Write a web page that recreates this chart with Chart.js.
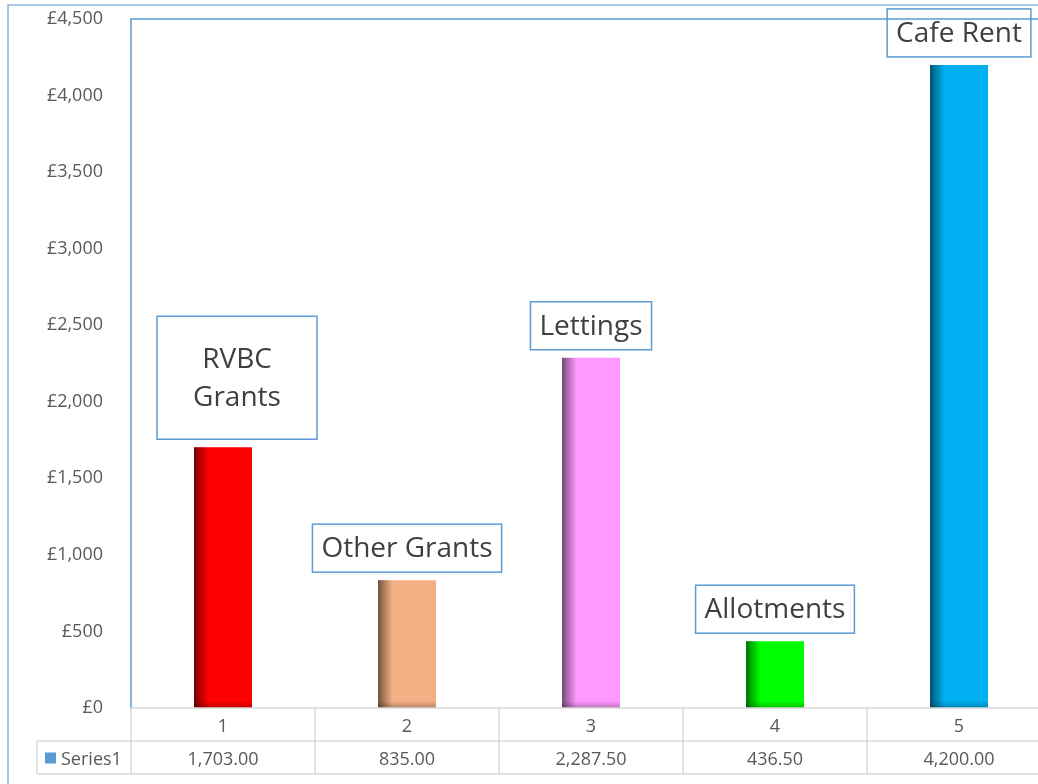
<!DOCTYPE html>
<html>
<head>
<meta charset="utf-8">
<script src="https://cdn.jsdelivr.net/npm/chart.js@4.4.1/dist/chart.umd.min.js"></script>
<style>
  html, body { margin: 0; padding: 0; background: #fff; overflow: hidden; }
  #chart { position: absolute; left: 0; top: 0; }
</style>
</head>
<body>
<canvas id="chart" width="1060" height="784"></canvas>
<script>
// chart data
const categories = ["1", "2", "3", "4", "5"];
const seriesName = "Series1";
const values = [1703, 835, 2287.5, 436.5, 4200];
const barLabels = [["RVBC", "Grants"], ["Other Grants"], ["Lettings"], ["Allotments"], ["Cafe Rent"]];
const barColors = ["#FF0000", "#F4B084", "#FF99FF", "#00FF00", "#00B0F0"];
const yTicks = [0, 500, 1000, 1500, 2000, 2500, 3000, 3500, 4000, 4500];

const FONT = "'Open Sans', 'Noto Sans', sans-serif";
const BLUE = "#5B9BD5";
const GRID = "#D9D9D9";
const TEXT = "#595959";

// the first label box was resized by hand in the original
const labelBoxOverride = { 0: { w: 160, h: 123, dx: 14 } };

const fmtMoney = (v) => "£" + v.toLocaleString("en-GB");
const fmtTable = (v) => v.toLocaleString("en-GB", { minimumFractionDigits: 2, maximumFractionDigits: 2 });

const barShading = {
    id: "barShading",
    afterDatasetsDraw(chart) {
        const ctx = chart.ctx;
        chart.getDatasetMeta(0).data.forEach((bar) => {
            const left = bar.x - bar.width / 2;
            const w = bar.width;
            const top = bar.y;
            const bottom = bar.base;
            // darker left edge
            let g = ctx.createLinearGradient(left, 0, left + w, 0);
            g.addColorStop(0, "rgba(0,0,0,0.55)");
            g.addColorStop(0.08, "rgba(0,0,0,0.35)");
            g.addColorStop(0.25, "rgba(0,0,0,0)");
            g.addColorStop(1, "rgba(0,0,0,0)");
            ctx.save();
            ctx.fillStyle = g;
            ctx.fillRect(left, top, w, bottom - top);
            // slightly darker bottom edge
            g = ctx.createLinearGradient(0, bottom - 7, 0, bottom);
            g.addColorStop(0, "rgba(0,0,0,0)");
            g.addColorStop(1, "rgba(0,0,0,0.25)");
            ctx.fillStyle = g;
            ctx.fillRect(left, bottom - 7, w, 7);
            ctx.restore();
        });
    }
};

const frameAndTable = {
    id: "frameAndTable",
    afterDraw(chart) {
        const ctx = chart.ctx;
        const area = chart.chartArea;
        const x = chart.scales.x;
        const step = x.getPixelForValue(1) - x.getPixelForValue(0);
        const tLeft = area.left;
        const tRight = area.right;
        const row1 = area.bottom;
        const row2 = row1 + 33;
        const row3 = row2 + 33;
        const keyLeft = 37;

        ctx.save();
        // outer chart border
        ctx.strokeStyle = "#8FB8E2";
        ctx.lineWidth = 1.5;
        ctx.beginPath();
        ctx.moveTo(8, 790);
        ctx.lineTo(8, 5);
        ctx.lineTo(1100, 5);
        ctx.stroke();

        // plot area border
        ctx.strokeStyle = BLUE;
        ctx.lineWidth = 1.5;
        ctx.beginPath();
        ctx.moveTo(tLeft, area.bottom);
        ctx.lineTo(tLeft, area.top);
        ctx.lineTo(tRight, area.top);
        ctx.lineTo(tRight, area.bottom);
        ctx.stroke();

        // data table grid
        ctx.strokeStyle = GRID;
        ctx.lineWidth = 1.5;
        ctx.beginPath();
        ctx.moveTo(tLeft, row1); ctx.lineTo(tRight, row1);
        ctx.moveTo(keyLeft, row2); ctx.lineTo(tRight, row2);
        ctx.moveTo(keyLeft, row3); ctx.lineTo(tRight, row3);
        ctx.moveTo(keyLeft, row2); ctx.lineTo(keyLeft, row3);
        for (let i = 0; i <= categories.length; i++) {
            const gx = x.getPixelForValue(i) - step / 2;
            ctx.moveTo(gx, row1); ctx.lineTo(gx, row3);
        }
        ctx.stroke();

        ctx.fillStyle = TEXT;
        ctx.font = "18px " + FONT;
        ctx.textAlign = "center";
        ctx.textBaseline = "middle";
        categories.forEach((c, i) => {
            const cx = x.getPixelForValue(i);
            ctx.fillText(c, cx, (row1 + row2) / 2 + 2);
            ctx.fillText(fmtTable(values[i]), cx, (row2 + row3) / 2 + 2);
        });
        // legend key + series name
        ctx.fillStyle = BLUE;
        ctx.fillRect(45, (row2 + row3) / 2 - 5, 11, 11);
        ctx.fillStyle = TEXT;
        ctx.textAlign = "left";
        ctx.fillText(seriesName, 61, (row2 + row3) / 2 + 2);

        // label boxes above bars
        ctx.font = "28px " + FONT;
        ctx.textAlign = "center";
        const bars = chart.getDatasetMeta(0).data;
        barLabels.forEach((lines, i) => {
            const bar = bars[i];
            const lineH = 38;
            let w = Math.max(...lines.map((l) => ctx.measureText(l).width)) + 18;
            let h = lines.length * lineH + 10;
            let dx = 0;
            const o = labelBoxOverride[i];
            if (o) { w = o.w; h = o.h; dx = o.dx; }
            const cx = bar.x + dx;
            const bottom = bar.y - 8;
            const top = bottom - h;
            ctx.strokeStyle = BLUE;
            ctx.lineWidth = 1.5;
            ctx.strokeRect(cx - w / 2, top, w, h);
            ctx.fillStyle = "#404040";
            const startY = top + h / 2 - (lines.length - 1) * lineH / 2;
            lines.forEach((l, k) => ctx.fillText(l, cx, startY + k * lineH + 1));
        });
        ctx.restore();
    }
};

new Chart(document.getElementById("chart"), {
    type: "bar",
    data: {
        labels: categories,
        datasets: [{
            label: seriesName,
            data: values,
            backgroundColor: barColors,
            borderWidth: 0,
            categoryPercentage: 1,
            barPercentage: 0.315
        }]
    },
    options: {
        responsive: false,
        animation: false,
        devicePixelRatio: 1,
        layout: { padding: { top: 19, right: 9, bottom: 76, left: 0 } },
        plugins: {
            legend: { display: false },
            tooltip: { enabled: false }
        },
        scales: {
            x: { display: false },
            y: {
                min: 0,
                max: 4500,
                afterFit: (scale) => {
                    scale.width = 131;
                    scale.paddingTop = 0;
                    scale.paddingBottom = 0;
                },
                afterBuildTicks: (scale) => { scale.ticks = yTicks.map((v) => ({ value: v })); },
                grid: { display: false },
                border: { display: false },
                ticks: {
                    padding: 20,
                    color: TEXT,
                    font: { family: FONT, size: 18 },
                    callback: (v) => fmtMoney(v)
                }
            }
        }
    },
    plugins: [barShading, frameAndTable]
});
</script>
</body>
</html>
